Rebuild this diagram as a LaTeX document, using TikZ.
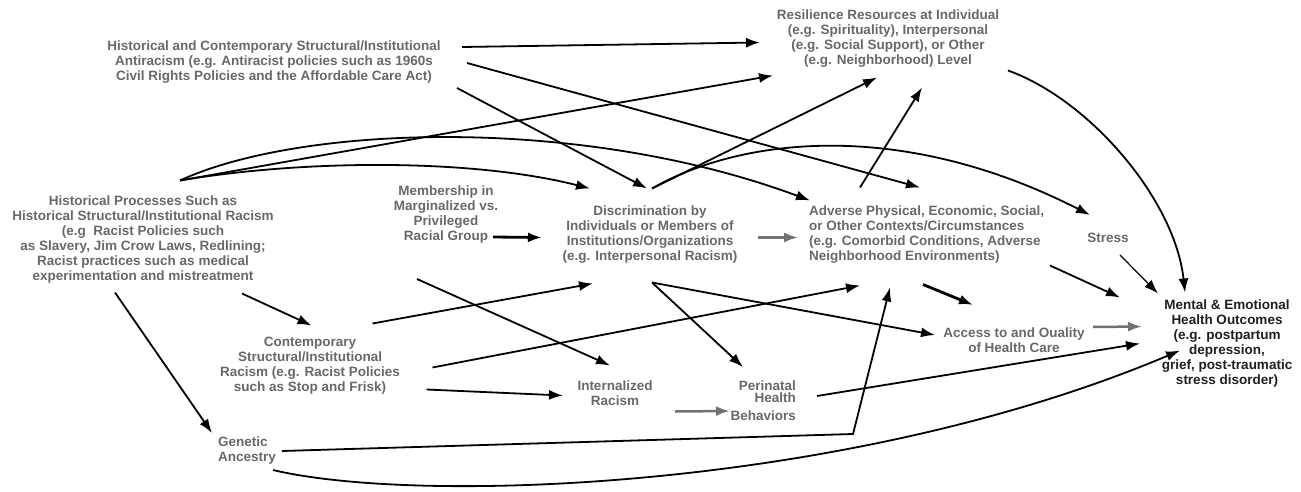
\documentclass[tikz,border=0pt]{standalone}
\usepackage{fontspec}
\setmainfont{Liberation Sans}
\usetikzlibrary{arrows.meta,calc}
\definecolor{txtgray}{HTML}{686868}
\definecolor{lngray}{HTML}{727272}

\begin{document}
\begin{tikzpicture}[x=1pt,y=-1pt,>={Latex[length=14pt,width=10pt]},
  lbl/.style={font=\fontsize{13.5}{15}\selectfont\bfseries,text=txtgray,align=center,inner sep=0pt},
  outcome/.style={lbl,text=black!88},
  link/.style={->,line width=1.8pt},
  boldlink/.style={->,line width=2.8pt},
  greylink/.style={->,line width=2.5pt,draw=lngray},
  thinlink/.style={->,line width=1.2pt}]
  \useasboundingbox (0,0) rectangle (1301,492);

  \node[lbl] (anti) at (274,62) {Historical and Contemporary Structural/Institutional\\Antiracism (e.g. Antiracist policies such as 1960s\\Civil Rights Policies and the Affordable Care Act)};
  \node[lbl] (resil) at (888,39) {Resilience Resources at Individual\\(e.g. Spirituality), Interpersonal\\(e.g. Social Support), or Other\\(e.g. Neighborhood) Level};
  \node[lbl] (hist) at (143,240) {Historical Processes Such as\\Historical Structural/Institutional Racism\\(e.g\ \ Racist Policies such\\as Slavery, Jim Crow Laws, Redlining;\\Racist practices such as medical\\experimentation and mistreatment};
  \node[lbl] (member) at (446,215) {Membership in\\Marginalized vs.\\Privileged\\Racial Group};
  \node[lbl] (disc) at (650,235) {Discrimination by\\Individuals or Members of\\Institutions/Organizations\\(e.g. Interpersonal Racism)};
  \node[lbl,align=left,anchor=west] (adverse) at (809,235) {Adverse Physical, Economic, Social,\\or Other Contexts/Circumstances\\(e.g. Comorbid Conditions, Adverse\\Neighborhood Environments)};
  \node[lbl] (stress) at (1108,238) {Stress};
  \node[outcome] (mental) at (1227,344) {Mental \& Emotional\\Health Outcomes\\(e.g. postpartum\\depression,\\grief, post-traumatic\\stress disorder)};
  \node[lbl] (access) at (1014,340) {Access to and Ouality\\of Health Care};
  \node[lbl] (contemp) at (310,366) {Contemporary\\Structural/Institutional\\Racism (e.g. Racist Policies\\such as Stop and Frisk)};
  \node[lbl] (internal) at (615,393) {Internalized\\Racism};
  \node[lbl,align=right,anchor=east] (perinatal) at (796,401) {Perinatal\\[-3pt]Health\\[3pt]Behaviors};
  \node[lbl,align=left,anchor=west] (genetic) at (218,451) {Genetic\\Ancestry};

  \draw[link] ($(anti)+(188,-15)$) -- ($(resil)+(-128,3.5)$);
  \draw[link] ($(anti)+(193,1)$) -- ($(adverse.west)+(111,-47.5)$);
  \draw[link] ($(anti)+(183,26)$) -- ($(disc)+(-3,-46.5)$);
  \draw[link] ($(hist)+(37,-59.5)$) -- ($(resil)+(-115,36.5)$);
  \draw[link] ($(hist)+(37,-59.5)$) .. controls (300,125) and (580,115) .. ($(adverse.west)+(1,-34.5)$);
  \draw[link] ($(hist)+(37,-59.5)$) .. controls (300,160) and (470,158) .. ($(disc)+(-60,-46.5)$);
  \draw[link] ($(hist)+(99,53.5)$) -- ($(contemp)+(1.5,-40.5)$);
  \draw[link] ($(hist)+(-28,52.5)$) -- ($(genetic.west)+(-6,-18)$);
  \draw[boldlink] ($(member)+(47,22)$) -- ($(disc)+(-108,2.5)$);
  \draw[link] ($(member)+(-29,64)$) -- ($(internal)+(-5,-27.5)$);
  \draw[greylink] ($(disc)+(108,2.5)$) -- ($(adverse.west)+(-11,2.5)$);
  \draw[link] ($(disc)+(2,-46.5)$) -- ($(resil)+(-11,38.5)$);
  \draw[link] ($(disc)+(2,-46.5)$) .. controls (740,138) and (900,118) .. ($(stress)+(-18,-23)$);
  \draw[link] ($(disc)+(2,47.5)$) -- ($(perinatal.east)+(-53,-34)$);
  \draw[link] ($(disc)+(2,47.5)$) -- ($(access)+(-79,-5)$);
  \draw[link] ($(contemp)+(62.5,-42.5)$) -- ($(disc)+(-57,48.5)$);
  \draw[link] ($(contemp)+(122.5,1.5)$) -- ($(adverse.west)+(51,50.5)$);
  \draw[link] ($(contemp)+(116.5,23.5)$) -- ($(internal)+(-52,2.5)$);
  \draw[greylink] ($(internal)+(60,18.5)$) -- ($(perinatal.east)+(-66,10)$);
  \coordinate (gbend) at (853,434);
  \draw[link] ($(genetic.west)+(64,0)$) -- (gbend) -- ($(adverse.west)+(81,52.5)$);
  \draw[link] ($(genetic.west)+(55,19)$) .. controls (420,505) and (850,490) .. ($(mental)+(-47,6.5)$);
  \draw[link] ($(adverse.west)+(51,-47.5)$) -- ($(resil)+(34,48.5)$);
  \draw[boldlink] ($(adverse.west)+(114,49.5)$) -- ($(access)+(-41,-35)$);
  \draw[link] ($(adverse.west)+(241,30.5)$) -- ($(mental)+(-107,-46.5)$);
  \draw[thinlink] ($(stress)+(12,17)$) -- ($(mental)+(-69,-50.5)$);
  \draw[link] ($(resil)+(120,31.5)$) .. controls (1090,100) and (1175,200) .. ($(mental)+(-42,-51.5)$);
  \draw[greylink] ($(access)+(79,-13)$) -- ($(mental)+(-85,-17.5)$);
  \draw[link] ($(perinatal.east)+(21,-5)$) -- ($(mental)+(-87,-0.5)$);
\end{tikzpicture}
\end{document}
